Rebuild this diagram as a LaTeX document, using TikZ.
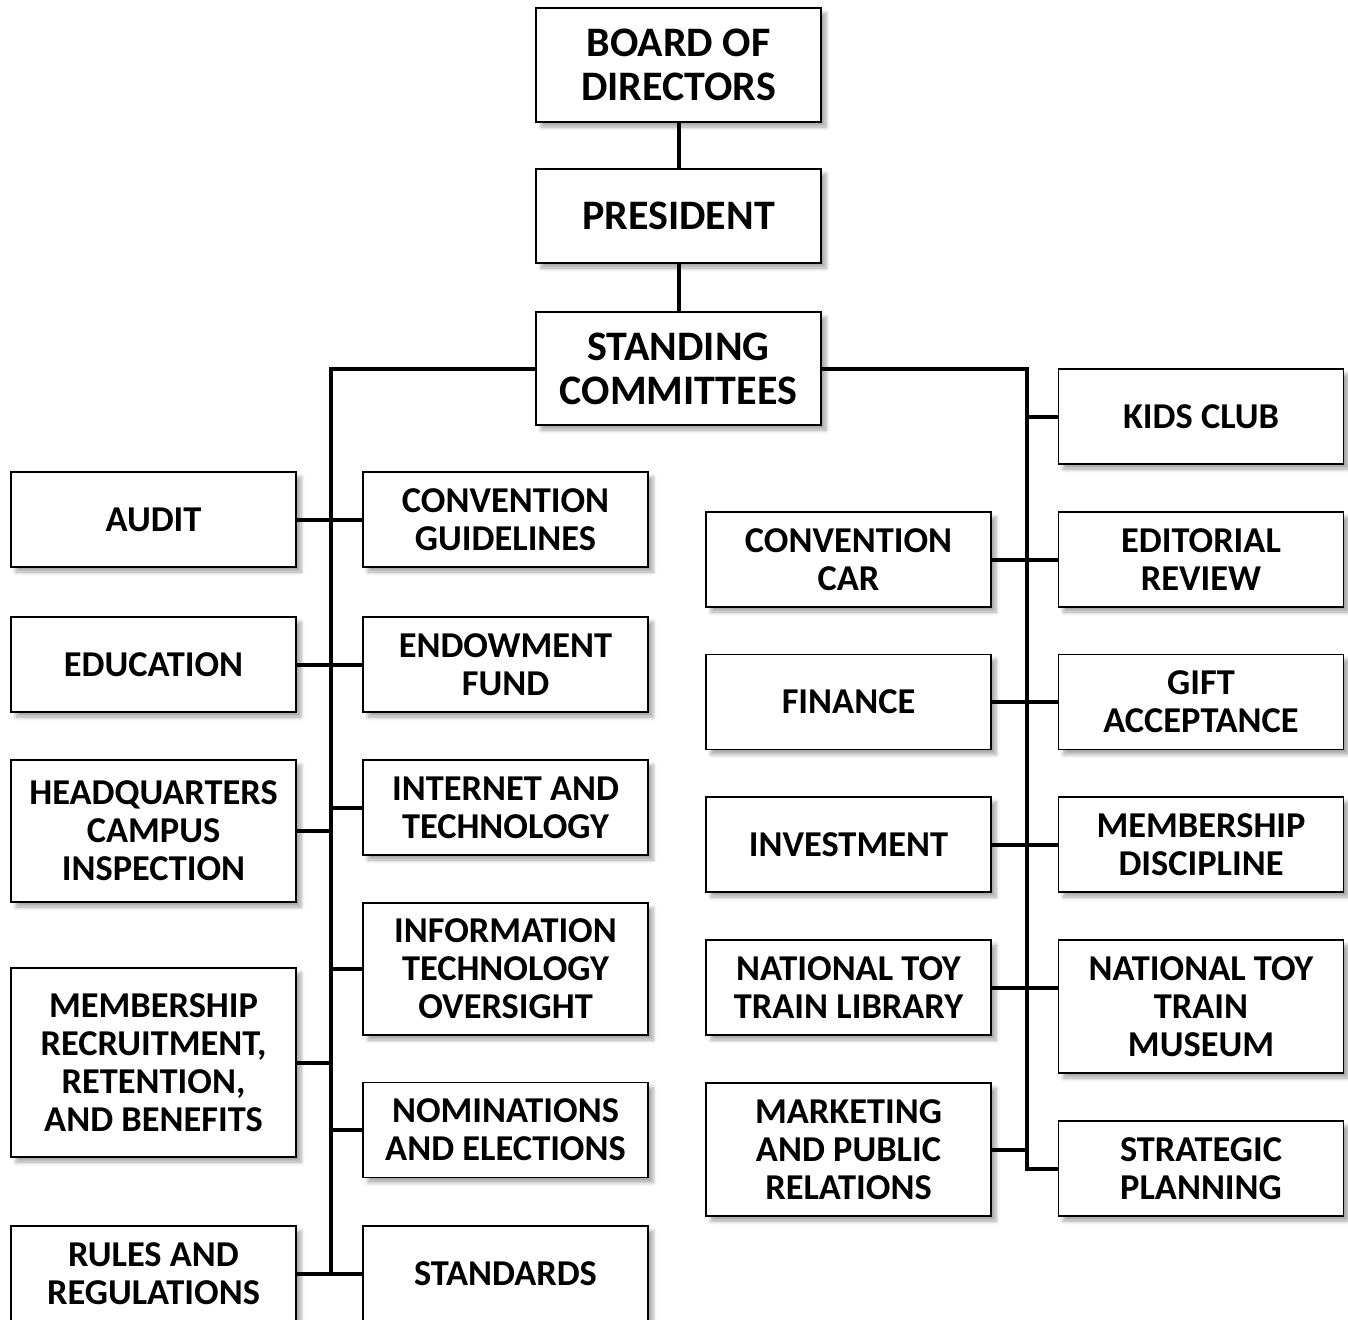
\documentclass[tikz,border=0pt]{standalone}
\usepackage{fontspec}
\setmainfont{Carlito}
\usepackage{tikz}
\usetikzlibrary{shadows.blur}

\begin{document}
\begin{tikzpicture}[x=0.5pt,y=-0.5pt,
		box/.style={draw,line width=0.9pt,fill=white,minimum width=142.5pt,
			inner sep=0pt,align=center,font=\fontsize{18.2}{19}\selectfont\bfseries,
			blur shadow={shadow xshift=2.5pt,shadow yshift=-2.5pt,shadow opacity=35,shadow blur steps=6}},
		topbox/.style={box,font=\fontsize{21}{22}\selectfont\bfseries},
		link/.style={line width=2pt}]
		\useasboundingbox (0,0) rectangle (1348,1319);
		% top of the chart
		\node[topbox,minimum height=57pt] (board) at (678.5,65) {BOARD OF\\DIRECTORS};
		\node[topbox,minimum height=47pt] (president) at (678.5,216) {PRESIDENT};
		\node[topbox,minimum height=56.5pt] (standing) at (678.5,368.5) {STANDING\\COMMITTEES};
		% left side
		\node[box,minimum height=47.5pt] (audit) at (153.5,519.5) {AUDIT};
		\node[box,minimum height=47.5pt] (education) at (153.5,664.5) {EDUCATION};
		\node[box,minimum height=71pt] (hq) at (153.5,831) {HEADQUARTERS\\CAMPUS\\INSPECTION};
		\node[box,minimum height=94.5pt] (recruit) at (153.5,1062.5) {MEMBERSHIP\\RECRUITMENT,\\RETENTION,\\AND BENEFITS};
		\node[box,minimum height=47.5pt] (rules) at (153.5,1273.5) {RULES AND\\REGULATIONS};
		\node[box,minimum height=47.5pt] (guidelines) at (505.5,519.5) {CONVENTION\\GUIDELINES};
		\node[box,minimum height=47.5pt] (endowment) at (505.5,664.5) {ENDOWMENT\\FUND};
		\node[box,minimum height=47.5pt] (internet) at (505.5,807.5) {INTERNET AND\\TECHNOLOGY};
		\node[box,minimum height=66pt] (infotech) at (505.5,969) {INFORMATION\\TECHNOLOGY\\OVERSIGHT};
		\node[box,minimum height=47.5pt] (nominations) at (505.5,1130) {NOMINATIONS\\AND ELECTIONS};
		\node[box,minimum height=47.5pt] (standards) at (505.5,1273.5) {STANDARDS};
		% right side
		\node[box,minimum height=47.5pt] (conventioncar) at (848.5,559.5) {CONVENTION\\CAR};
		\node[box,minimum height=47.5pt] (finance) at (848.5,702) {FINANCE};
		\node[box,minimum height=47.5pt] (investment) at (848.5,844.5) {INVESTMENT};
		\node[box,minimum height=47.5pt] (library) at (848.5,987.5) {NATIONAL TOY\\TRAIN LIBRARY};
		\node[box,minimum height=66.5pt] (marketing) at (848.5,1149.5) {MARKETING\\AND PUBLIC\\RELATIONS};
		\node[box,minimum height=47.5pt] (kids) at (1201,416.5) {KIDS CLUB};
		\node[box,minimum height=47.5pt] (editorial) at (1201,559.5) {EDITORIAL\\REVIEW};
		\node[box,minimum height=47.5pt] (gift) at (1201,702) {GIFT\\ACCEPTANCE};
		\node[box,minimum height=47.5pt] (discipline) at (1201,844.5) {MEMBERSHIP\\DISCIPLINE};
		\node[box,minimum height=66.5pt] (museum) at (1201,1006.5) {NATIONAL TOY\\TRAIN\\MUSEUM};
		\node[box,minimum height=47.5pt] (strategic) at (1201,1168.5) {STRATEGIC\\PLANNING};
		% the two buses
		\coordinate (lbus) at (331,0);
		\coordinate (rbus) at (1026.5,0);
		\draw[link] (board) -- (president);
		\draw[link] (president) -- (standing);
		\draw[link] (standing.west) -| (lbus |- rules.east);
		\draw[link] (standing.east) -| (rbus |- strategic.west) -- (strategic.west);
		\draw[link] (audit) -- (guidelines);
		\draw[link] (education) -- (endowment);
		\draw[link] (hq.east) -- (hq.east -| lbus);
		\draw[link] (internet.west) -- (internet.west -| lbus);
		\draw[link] (infotech.west) -- (infotech.west -| lbus);
		\draw[link] (recruit.east) -- (recruit.east -| lbus);
		\draw[link] (nominations.west) -- (nominations.west -| lbus);
		\draw[link] (rules) -- (standards);
		\draw[link] (kids.west) -- (kids.west -| rbus);
		\draw[link] (conventioncar) -- (editorial);
		\draw[link] (finance) -- (gift);
		\draw[link] (investment) -- (discipline);
		\draw[link] (library.east) -- (library.east -| museum.west);
		\draw[link] (marketing.east) -- (marketing.east -| rbus);
\end{tikzpicture}
\end{document}
